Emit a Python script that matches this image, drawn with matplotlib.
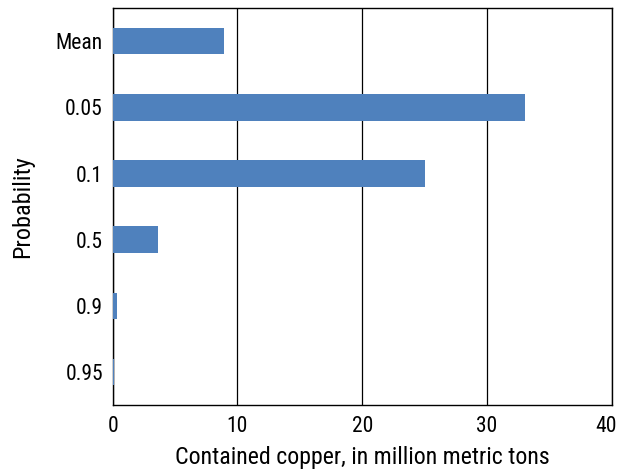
import matplotlib.pyplot as plt
from matplotlib.transforms import ScaledTranslation

# copper estimates by probability level
labels = ['Mean', '0.05', '0.1', '0.5', '0.9', '0.95']
values = [8.92, 33.04, 25.04, 3.63, 0.32, 0.13]

plt.rcParams['font.family'] = ['Roboto Condensed', 'DejaVu Sans']

fig = plt.figure(figsize=(6.2, 4.76), dpi=100)
ax = fig.add_axes([0.1818, 0.149, 0.805, 0.834])

ypos = list(range(len(labels)))
ax.barh(ypos, values, height=0.4, color='#4F81BD', zorder=3)

ax.set_xlim(0, 40)
ax.set_ylim(len(labels) - 0.5, -0.5)
ax.set_xticks([0, 10, 20, 30, 40])
ax.set_yticks(ypos)
ax.set_yticklabels(labels)
ax.grid(axis='x', color='black', linewidth=0.9, zorder=1)
ax.tick_params(axis='both', length=0, labelsize=15.5, colors='black')
ax.tick_params(axis='x', pad=8)
ax.tick_params(axis='y', pad=7)
for s in ax.spines.values():
    s.set_linewidth(1.0)
    s.set_color('black')

# keep the last x tick label inside the figure
last = ax.get_xticklabels()[-1]
last.set_transform(last.get_transform() + ScaledTranslation(-4 / 72, 0, fig.dpi_scale_trans))

ax.set_xlabel('Contained copper, in million metric tons', fontsize=17.2, labelpad=6)
ax.set_ylabel('Probability', fontsize=17.5, labelpad=16)

fig.savefig('out.png', dpi=100)
